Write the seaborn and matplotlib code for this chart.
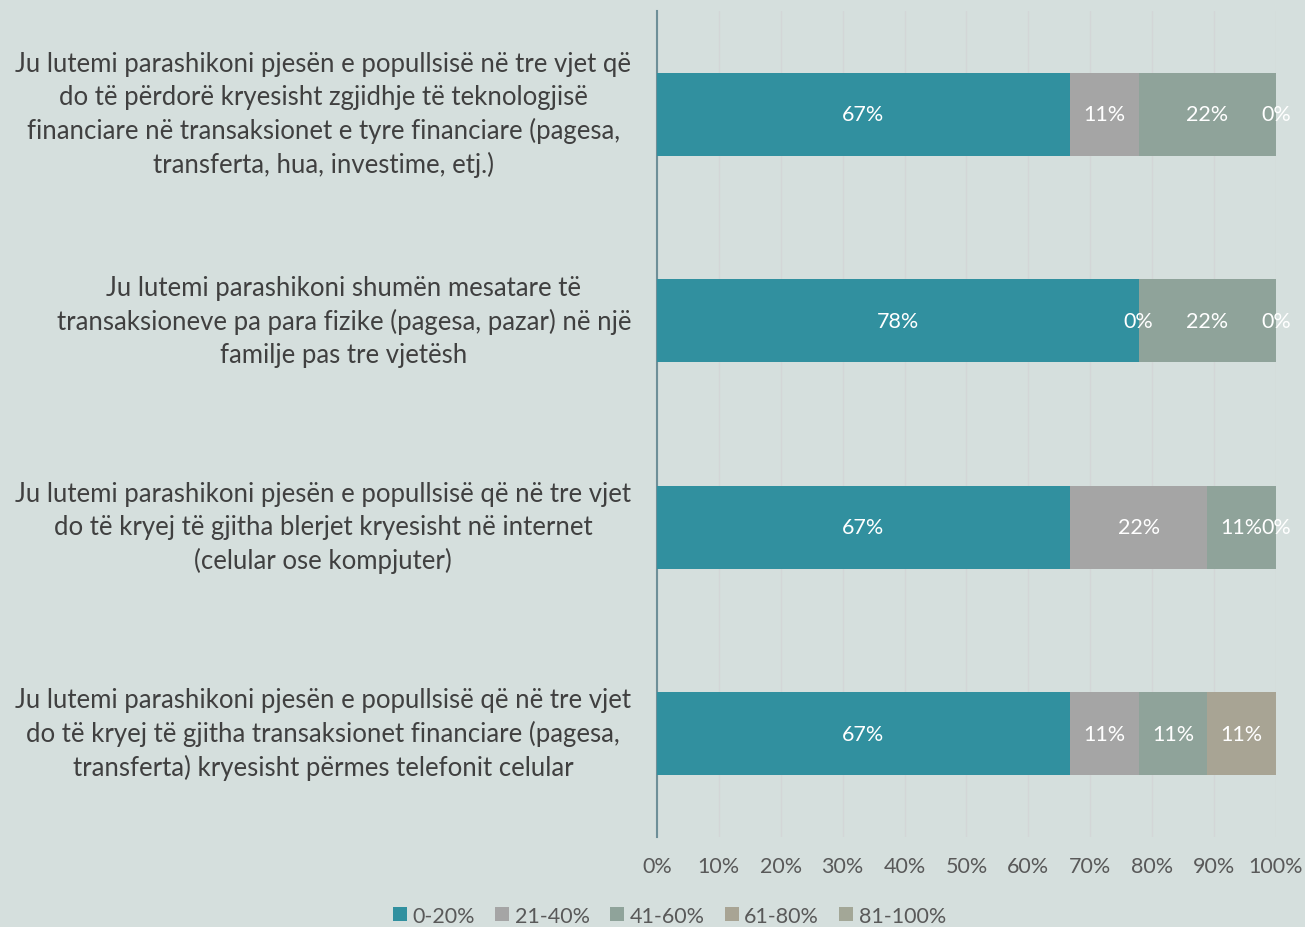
import numpy as np
import pandas as pd
import matplotlib
matplotlib.use("Agg")
import matplotlib.pyplot as plt
import seaborn as sns
from matplotlib.patches import Patch

# ---------------------------------------------------------
# DATA
# ---------------------------------------------------------

questions = [
    "Ju lutemi parashikoni pjesën e popullsisë në tre vjet që\n"
    "do të përdorë kryesisht zgjidhje të teknologjisë\n"
    "financiare në transaksionet e tyre financiare (pagesa,\n"
    "transferta, hua, investime, etj.)",
    "Ju lutemi parashikoni shumën mesatare të\n"
    "transaksioneve pa para fizike (pagesa, pazar) në një\n"
    "familje pas tre vjetësh",
    "Ju lutemi parashikoni pjesën e popullsisë që në tre vjet\n"
    "do të kryej të gjitha blerjet kryesisht në internet\n"
    "(celular ose kompjuter)",
    "Ju lutemi parashikoni pjesën e popullsisë që në tre vjet\n"
    "do të kryej të gjitha transaksionet financiare (pagesa,\n"
    "transferta) kryesisht përmes telefonit celular",
]

series = ["0-20%", "21-40%", "41-60%", "61-80%", "81-100%"]

v_0_20 = [66.7, 77.8, 66.7, 66.7]
v_21_40 = [11.1, 0.0, 22.2, 11.1]
v_41_60 = [22.2, 22.2, 11.1, 11.1]
v_61_80 = [0.0, 0.0, 0.0, 11.1]
v_81_100 = [np.nan, np.nan, np.nan, np.nan]

colors = ["#31909F", "#A5A5A5", "#8FA39A", "#A8A494", "#A3A797"]

# ---------------------------------------------------------
# STYLE
# ---------------------------------------------------------

bg = "#D5DFDD"
sns.set_theme(style="white")
plt.rcParams["font.family"] = ["Lato", "DejaVu Sans"]

df = pd.DataFrame(
    {s: v for s, v in zip(series, [v_0_20, v_21_40, v_41_60, v_61_80, v_81_100])},
    index=questions,
)
cum = df.fillna(0).cumsum(axis=1)

fig = plt.figure(figsize=(13.05, 9.28), dpi=100, facecolor=bg)
ax = fig.add_axes([0.5034, 0.097, 0.4744, 0.890])
ax.set_facecolor(bg)

# stacked bars: draw cumulative totals, largest first
for s, c in reversed(list(zip(series, colors))):
    plot_df = pd.DataFrame({"q": questions, "v": cum[s].values})
    sns.barplot(
        data=plot_df, x="v", y="q", orient="h",
        color=c, saturation=1, width=0.4, ax=ax, zorder=3,
        linewidth=0, edgecolor="none",
    )

# value labels
for s in series:
    for i, q in enumerate(questions):
        val = df.loc[q, s]
        if np.isnan(val):
            continue
        center = cum.loc[q, s] - val / 2
        ax.text(
            center, i, f"{val:.0f}%",
            ha="center", va="center",
            color="white", fontsize=15.5, zorder=5,
        )

ax.set_xlim(0, 100)
ax.set_ylim(3.5, -0.5)
ax.set_xticks(np.arange(0, 101, 10))
ax.set_xticklabels([f"{t}%" for t in range(0, 101, 10)])
ax.xaxis.grid(True, color="#D3D6D7", linewidth=1, zorder=0)
ax.set_xlabel("")
ax.set_ylabel("")

ax.tick_params(axis="x", colors="#595959", labelsize=15.5, length=0, pad=14)
ax.tick_params(axis="y", colors="#404040", labelsize=18.5, length=0, pad=18.5)
for lab in ax.get_yticklabels():
    lab.set_multialignment("center")
    lab.set_linespacing(1.38)
    lab.set_verticalalignment("center")

for side in ["top", "right", "bottom"]:
    ax.spines[side].set_visible(False)
ax.spines["left"].set_color("#6E8F98")
ax.spines["left"].set_linewidth(1.5)

# legend
handles = [Patch(facecolor=c, edgecolor="none") for c in colors]
fig.legend(
    handles, series,
    loc="center", bbox_to_anchor=(0.513, 0.012),
    ncol=5, frameon=False, fontsize=15.5,
    labelcolor="#595959", handlelength=0.65, handleheight=0.65,
    handletextpad=0.25, columnspacing=0.95,
)

fig.savefig("out.png", dpi=100, facecolor=bg)
